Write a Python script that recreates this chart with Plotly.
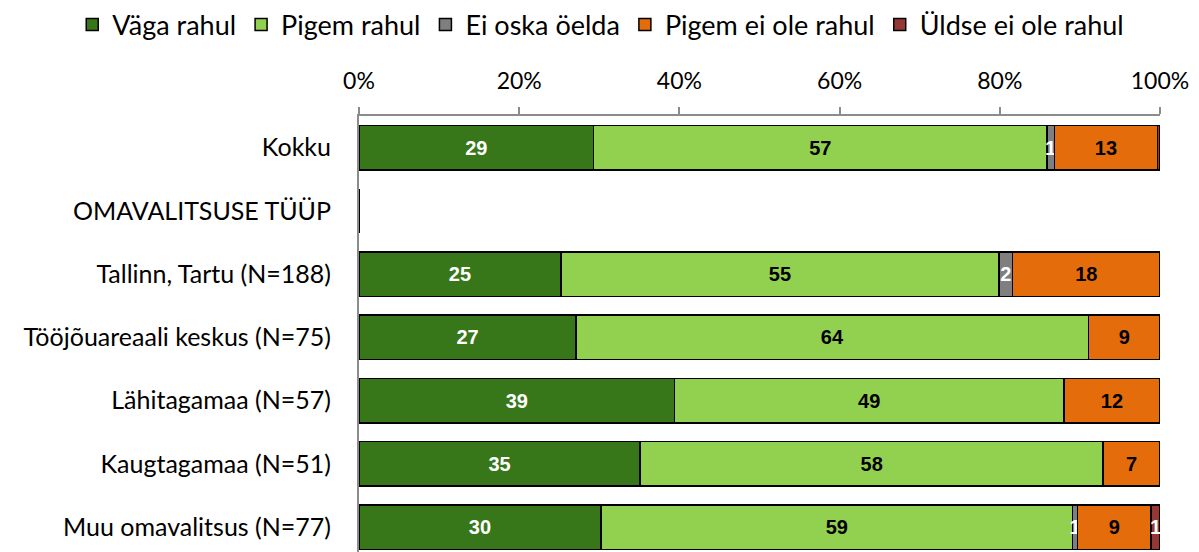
import plotly.graph_objects as go

categories = ["Kokku", "OMAVALITSUSE TÜÜP", "Tallinn, Tartu (N=188)", "Tööjõuareaali keskus (N=75)",
              "Lähitagamaa (N=57)", "Kaugtagamaa (N=51)", "Muu omavalitsus (N=77)"]
vaga_rahul = [29.3, 0, 25.2, 27.1, 39.4, 35.1, 30.2]
pigem_rahul = [56.6, 0, 54.7, 64.0, 48.6, 57.8, 58.9]
ei_oska = [0.9, 0, 1.7, 0, 0, 0, 0.6]
pigem_ei = [12.9, 0, 18.4, 8.9, 12.0, 7.1, 9.2]
uldse_ei = [0.3, 0, 0, 0, 0, 0, 1.1]
x_ticks = [0, 20, 40, 60, 80, 100]

series = [
    ("Väga rahul", vaga_rahul, "#38761A", "white"),
    ("Pigem rahul", pigem_rahul, "#92D050", "black"),
    ("Ei oska öelda", ei_oska, "#7F7F7F", "white"),
    ("Pigem ei ole rahul", pigem_ei, "#E46C0A", "black"),
    ("Üldse ei ole rahul", uldse_ei, "#953735", "white"),
]

fig = go.Figure()
for name, vals, color, tcolor in series:
    texts = [str(round(v)) if round(v) > 0 else "" for v in vals]
    fig.add_trace(go.Bar(
        y=categories, x=vals, name=name, orientation="h",
        marker=dict(color=color, line=dict(color="black", width=1.5)),
        text=texts, textposition="inside", insidetextanchor="middle",
        textfont=dict(family="Liberation Sans", size=20, color=tcolor, weight="bold"),
        constraintext="none", cliponaxis=False,
    ))

fig.update_layout(
    barmode="stack", bargap=0.30,
    width=1199, height=552,
    margin=dict(l=351, r=47, t=108, b=0, autoexpand=False),
    plot_bgcolor="white", paper_bgcolor="white",
    font=dict(family="Lato", size=25, color="black"),
    uniformtext=dict(minsize=20, mode="show"),
    legend=dict(orientation="h", x=-0.358, xanchor="left", y=1.205, yanchor="middle",
                font=dict(size=27), itemwidth=30, traceorder="normal"),
    showlegend=True,
)
fig.update_xaxes(side="top", range=[0, 100], tickvals=x_ticks,
                 ticktext=[f"{v}%" for v in x_ticks],
                 showgrid=False, zeroline=False, showline=True, linecolor="#8C8C8C", linewidth=2,
                 ticks="outside", ticklen=7, tickcolor="#8C8C8C", tickwidth=1.5,
                 tickfont=dict(size=23), ticklabelstandoff=9)
fig.update_yaxes(type="category", categoryorder="array", categoryarray=categories,
                 range=[6.52, -0.5], showgrid=False, showline=True, linecolor="#8C8C8C", linewidth=2,
                 ticks="", tickfont=dict(size=25), ticklabelstandoff=21)

fig.write_html("out.html")
